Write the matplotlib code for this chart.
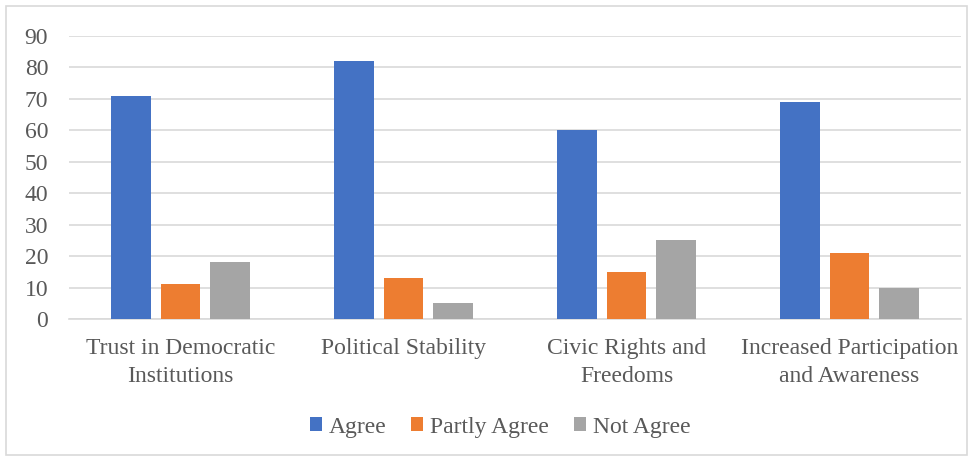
import matplotlib
matplotlib.use("Agg")
import matplotlib.pyplot as plt
import numpy as np
from matplotlib.patches import Rectangle

categories = ["Trust in Democratic\nInstitutions", "Political Stability",
              "Civic Rights and\nFreedoms", "Increased Participation\nand Awareness"]
series_names = ["Agree", "Partly Agree", "Not Agree"]
agree = [71, 82, 60, 69]
partly = [11, 13, 15, 21]
not_agree = [18, 5, 25, 10]
colors = ["#4472C4", "#ED7D31", "#A5A5A5"]
yticks = [0, 10, 20, 30, 40, 50, 60, 70, 80, 90]

plt.rcParams['font.family'] = ['Liberation Serif', 'DejaVu Serif']
txt = "#595959"

fig = plt.figure(figsize=(9.77, 4.59), dpi=100)
ax = fig.add_axes([69/977, 1-319/459, (961-69)/977, (319-36)/459])

x = np.arange(len(categories))
w = 0.175
step = 0.222
for i, (vals, name) in enumerate(zip([agree, partly, not_agree], series_names)):
    ax.bar(x + (i-1)*step, vals, w, color=colors[i], label=name, zorder=3)

ax.set_xlim(-0.5, len(categories)-0.5)
ax.set_ylim(0, 90)
ax.set_yticks(yticks)
ax.yaxis.grid(True, color="#D9D9D9", linewidth=1.2, zorder=0)
ax.set_axisbelow(True)
for s in ["top", "right", "left"]:
    ax.spines[s].set_visible(False)
ax.spines["bottom"].set_color("#D9D9D9")
ax.spines["bottom"].set_linewidth(1.2)
ax.tick_params(axis="both", length=0, colors=txt, labelsize=17)
ax.tick_params(axis="y", pad=15)
ax.tick_params(axis="x", pad=14)
ax.set_xticks(x)
ax.set_xticklabels(categories, linespacing=1.4)

leg = fig.legend(loc="center", bbox_to_anchor=(0.512, 1-427/459), ncol=3, frameon=False,
                 fontsize=17, handlelength=0.5, handleheight=0.5, handletextpad=0.3,
                 columnspacing=1.05)
for t in leg.get_texts():
    t.set_color(txt)

fig.patches.append(Rectangle((6/977, 1-455/459), (967-6)/977, (455-6)/459,
                             transform=fig.transFigure, fill=False,
                             edgecolor="#D9D9D9", linewidth=1.2))

fig.savefig("out.png", dpi=100)
